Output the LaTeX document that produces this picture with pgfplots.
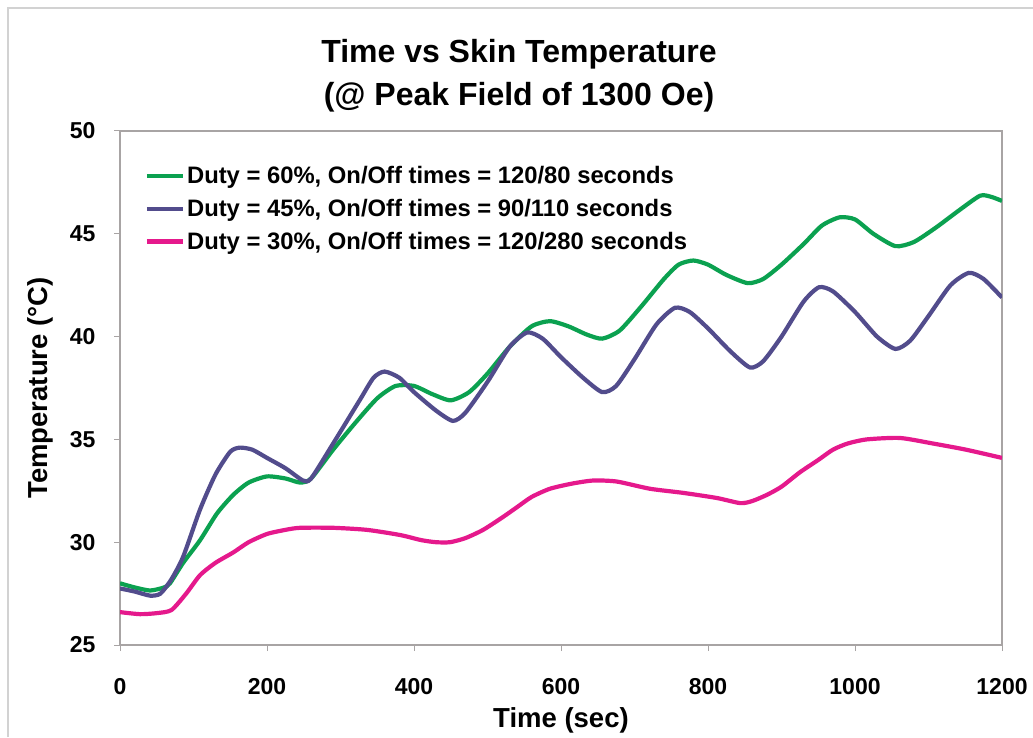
\documentclass[border=0pt]{standalone}
\usepackage{fontspec}
\setmainfont{Liberation Sans}
\usepackage{pgfplots}
\pgfplotsset{compat=1.18}

\definecolor{dgreen}{HTML}{0BA150}
\definecolor{dpurple}{HTML}{524C8C}
\definecolor{dmagenta}{HTML}{E5198C}
\definecolor{framegray}{HTML}{A8A4A4}

\begin{document}
\begin{tikzpicture}[x=1pt,y=1pt]
\useasboundingbox (0,0) rectangle (1033,737);
% outer chart frame (only left and top visible)
\draw[gray!35, line width=1.2pt] (8,0) -- (8,729) -- (1033,729);

\node[align=center, font=\fontsize{32}{43}\selectfont\bfseries] at (519,661)
  {Time vs Skin Temperature\\(@ Peak Field of 1300 Oe)};

\begin{axis}[
  at={(120pt,92pt)}, anchor=south west,
  scale only axis,
  width=882pt, height=514pt,
  xmin=0, xmax=1200, ymin=25, ymax=50,
  xtick={0,200,...,1200}, ytick={25,30,...,50},
  axis line style={framegray, line width=1.3pt},
  tick style={framegray, line width=1pt},
  tick align=outside, major tick length=6pt,
  xtick pos=bottom, ytick pos=left,
  /pgf/number format/assume math mode=true,
  /pgf/number format/1000 sep={},
  tick label style={font=\fontsize{23}{26}\selectfont\bfseries},
  yticklabel style={xshift=-15pt},
  xticklabel style={yshift=-24pt},
  xlabel={Time (sec)}, ylabel={Temperature (°C)},
  label style={font=\fontsize{27.5}{30}\selectfont\bfseries},
  xlabel style={yshift=-6pt},
  ylabel style={yshift=10pt},
  legend cell align=left,
  legend style={at={(0.028,0.935)}, anchor=north west, draw=none, fill=none,
    font=\fontsize{23.8}{26}\selectfont\bfseries, row sep=10pt, inner sep=0pt},
  legend image code/.code={\draw[#1, line width=4.2pt] (0pt,0pt) -- (36pt,0pt);},
  every axis plot/.append style={line width=4.2pt, smooth, tension=0.4},
]
\addplot[dgreen] coordinates {
(0,28.0) (20,27.8) (41,27.65) (60,27.8) (68,28.0) (86,29.0) (109,30.1)
(132,31.4) (154,32.3) (175,32.9) (200,33.2) (225,33.1) (245,32.9) (260,33.1)
(290,34.5) (320,35.8) (350,37.0) (375,37.6) (400,37.6) (425,37.2) (450,36.9)
(475,37.3) (500,38.2) (530,39.5) (560,40.5) (585,40.75) (610,40.5) (635,40.1)
(656,39.9) (680,40.3) (710,41.5) (740,42.8) (760,43.5) (780,43.7) (800,43.5)
(825,43.0) (854,42.6) (875,42.8) (900,43.5) (930,44.5) (955,45.4) (979,45.8)
(1000,45.7) (1025,45.0) (1055,44.4) (1080,44.6) (1110,45.3) (1140,46.1)
(1170,46.85) (1185,46.8) (1200,46.6)
};
\addlegendentry{Duty = 60\%, On/Off times = 120/80 seconds}
\addplot[dpurple] coordinates {
(0,27.75) (20,27.6) (41,27.4) (55,27.5) (70,28.2) (86,29.3) (109,31.6)
(130,33.3) (150,34.4) (163,34.6) (180,34.5) (200,34.1) (225,33.6) (249,33.0)
(260,33.1) (290,34.8) (326,36.9) (345,38.0) (360,38.3) (380,38.0) (400,37.3)
(430,36.4) (453,35.9) (470,36.3) (500,37.8) (530,39.5) (554,40.2) (575,39.9)
(600,39.0) (630,38.0) (656,37.3) (675,37.6) (700,38.9) (730,40.6) (755,41.4)
(775,41.2) (800,40.4) (830,39.3) (857,38.5) (875,38.8) (900,40.0) (930,41.7)
(951,42.4) (970,42.2) (1000,41.2) (1030,40.0) (1055,39.4) (1075,39.8)
(1100,41.0) (1130,42.5) (1155,43.1) (1175,42.8) (1200,41.9)
};
\addlegendentry{Duty = 45\%, On/Off times = 90/110 seconds}
\addplot[dmagenta] coordinates {
(0,26.6) (27,26.5) (50,26.55) (70,26.7) (90,27.5) (109,28.4) (130,29.0)
(154,29.5) (175,30.0) (200,30.4) (225,30.6) (245,30.7) (290,30.7) (336,30.6)
(381,30.35) (410,30.1) (430,30.0) (449,30.0) (470,30.2) (494,30.6) (520,31.2)
(540,31.7) (560,32.2) (585,32.6) (615,32.85) (644,33.0) (676,32.95) (721,32.6)
(766,32.4) (812,32.15) (844,31.9) (860,32.0) (880,32.3) (900,32.7) (925,33.4)
(950,34.0) (970,34.5) (990,34.8) (1016,35.0) (1061,35.07) (1106,34.8)
(1151,34.5) (1200,34.1)
};
\addlegendentry{Duty = 30\%, On/Off times = 120/280 seconds}
\end{axis}
\end{tikzpicture}
\end{document}
